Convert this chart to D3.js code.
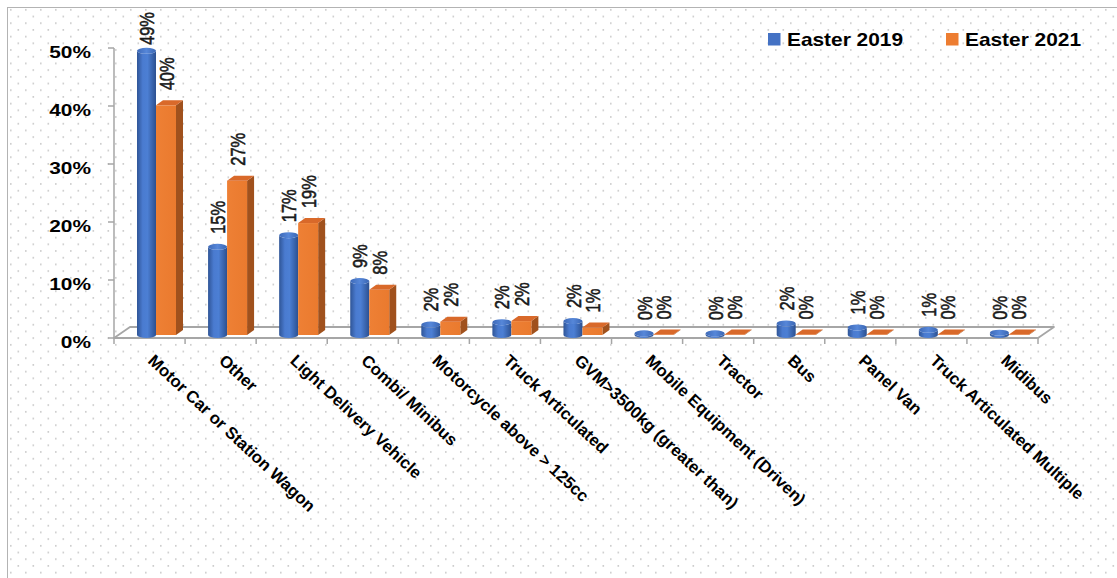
<!DOCTYPE html>
<html><head><meta charset="utf-8">
<script src="https://cdn.jsdelivr.net/npm/d3@7"></script>
<style>body{margin:0;background:#fff;overflow:hidden}</style>
</head><body><svg id="c" width="1117" height="578"></svg>
<script>
const categories = ["Motor Car or Station Wagon","Other","Light Delivery Vehicle","Combi/ Minibus","Motorcycle above > 125cc","Truck Articulated","GVM>3500kg (greater than)","Mobile Equipment (Driven)","Tractor","Bus","Panel Van","Truck Articulated Multiple","Midibus"];
const easter2019 = [49.0,15.2,17.2,9.3,1.8,2.2,2.4,0.3,0.3,2.0,1.3,0.9,0.4];
const easter2021 = [39.6,26.6,19.3,7.8,2.3,2.4,1.3,0.1,0.1,0.1,0.1,0.1,0.1];
const yTicks = [0,10,20,30,40,50];
const seriesNames = ["Easter 2019","Easter 2021"];

const FONT = "'Liberation Sans', Arial, sans-serif";
const svg = d3.select("#c");
const defs = svg.append("defs");

// dotted background pattern
const pat = defs.append("pattern").attr("id","dots").attr("patternUnits","userSpaceOnUse")
  .attr("width",15).attr("height",13.4).attr("x",7).attr("y",7);
pat.append("rect").attr("x",3).attr("y",2).attr("width",1.6).attr("height",1.6).attr("fill","#c8c8c8");
pat.append("rect").attr("x",10.5).attr("y",8.7).attr("width",1.6).attr("height",1.6).attr("fill","#c8c8c8");

// gradients
const gBlue = defs.append("linearGradient").attr("id","gBlue").attr("x1",0).attr("x2",1).attr("y1",0).attr("y2",0);
[[0,"#2f5597"],[0.3,"#4a7bd0"],[0.55,"#4c7fd4"],[1,"#2c5090"]].forEach(s=>gBlue.append("stop").attr("offset",s[0]).attr("stop-color",s[1]));
const gTop = defs.append("linearGradient").attr("id","gTop").attr("x1",0).attr("x2",1).attr("y1",0).attr("y2",0);
[[0,"#3d69b8"],[0.5,"#5687d9"],[1,"#3a66b3"]].forEach(s=>gTop.append("stop").attr("offset",s[0]).attr("stop-color",s[1]));
const gOr = defs.append("linearGradient").attr("id","gOr").attr("x1",0).attr("x2",1).attr("y1",0).attr("y2",0);
[[0,"#ee8035"],[1,"#ea7a2e"]].forEach(s=>gOr.append("stop").attr("offset",s[0]).attr("stop-color",s[1]));

svg.append("rect").attr("x",7).attr("y",7).attr("width",1110).attr("height",571).attr("fill","#fff");
svg.append("rect").attr("x",7).attr("y",7).attr("width",1110).attr("height",571).attr("fill","url(#dots)");
svg.append("line").attr("x1",7).attr("y1",7.5).attr("x2",1117).attr("y2",7.5).attr("stroke","#b3b3b3");
svg.append("line").attr("x1",7.5).attr("y1",7).attr("x2",7.5).attr("y2",578).attr("stroke","#b3b3b3");

// scales
const x = d3.scaleBand().domain(categories).range([114,1038]).padding(0);
const y = d3.scaleLinear().domain([0,50]).range([338,48]);
const DX = 16, DY = 11;       // floor depth
const baseY = 335;            // bars sit slightly back in depth
const barTop = v => y(v) - (338 - baseY);

// floor
const axisColor = "#a6a6a6";
svg.append("path")
  .attr("d",`M${x.range()[0]},${y(0)} L${x.range()[1]},${y(0)} L${x.range()[1]+DX},${y(0)-DY} L${x.range()[0]+DX},${y(0)-DY} Z`)
  .attr("fill","#fff").attr("stroke",axisColor).attr("stroke-width",1.8).attr("stroke-linejoin","round");

// y axis
svg.append("line").attr("x1",114).attr("x2",114).attr("y1",y(0)).attr("y2",y(50)).attr("stroke",axisColor).attr("stroke-width",1.5);
const yt = svg.append("g");
yTicks.forEach(t=>{
  yt.append("line").attr("x1",108).attr("x2",114).attr("y1",y(t)).attr("y2",y(t)).attr("stroke",axisColor).attr("stroke-width",1.5);
  yt.append("text").attr("transform",`translate(91,${y(t)+10}) scale(1.28,1)`)
    .attr("text-anchor","end").attr("font-family",FONT).attr("font-weight","bold").attr("font-size",16.3)
    .attr("fill","#000").text(t+"%");
});

// x ticks
d3.range(categories.length+1).forEach(i=>{
  const xx = 114 + i*x.bandwidth();
  svg.append("line").attr("x1",xx).attr("x2",xx).attr("y1",y(0)).attr("y2",y(0)+6).attr("stroke",axisColor).attr("stroke-width",1.5);
});

// bars
const BW = 19, OW = 20, SD = 7, SH = 5, RY = 3;
const bars = svg.append("g");
const labels = svg.append("g");
function addLabel(cx, bottom, v){
  const t = labels.append("text").attr("font-family",FONT).attr("font-size",16.5).attr("fill","#1a1a1a")
    .attr("stroke","#1a1a1a").attr("stroke-width",0.45)
    .attr("text-anchor","start").attr("dy","0.36em").text(Math.round(v)+"%");
  const len = t.node().getComputedTextLength();
  const yy = Math.max(bottom, 12 + len);
  t.attr("transform",`translate(${cx},${yy}) rotate(-90) scale(1,1.27)`);
}
categories.forEach((c,i)=>{
  const left = x(c);
  // blue cylinder
  const bx = left + 23, bt = barTop(easter2019[i]), bb = baseY, rx = BW/2;
  bars.append("path")
    .attr("d",`M${bx},${bt} L${bx},${bb} A${rx},${RY} 0 0 0 ${bx+BW},${bb} L${bx+BW},${bt} A${rx},${RY} 0 0 1 ${bx},${bt} Z`)
    .attr("fill","url(#gBlue)");
  bars.append("ellipse").attr("cx",bx+rx).attr("cy",bt).attr("rx",rx).attr("ry",RY).attr("fill","url(#gTop)");
  addLabel(bx+rx, bt-RY-10, easter2019[i]);
  // orange box
  const ox = bx + BW, ot = barTop(easter2021[i]);
  bars.append("path").attr("d",`M${ox+OW},${ot} L${ox+OW+SD},${ot-SH} L${ox+OW+SD},${bb-SH} L${ox+OW},${bb} Z`).attr("fill","#a0511d");
  bars.append("rect").attr("x",ox).attr("y",ot).attr("width",OW).attr("height",Math.max(0,bb-ot)).attr("fill","url(#gOr)");
  bars.append("path").attr("d",`M${ox},${ot} L${ox+SD},${ot-SH} L${ox+OW+SD},${ot-SH} L${ox+OW},${ot} Z`).attr("fill","#d9692a");
  addLabel(ox+OW/2, ot-SH-10, easter2021[i]);
});

// category labels
const cl = svg.append("g");
categories.forEach(c=>{
  cl.append("text").attr("transform",`translate(${x(c)+x.bandwidth()/2-2.5},362) rotate(43)`)
    .attr("font-family",FONT).attr("font-weight","bold").attr("font-size",16.7).attr("fill","#000").text(c);
});

// legend
const colors = ["#4472c4","#ed7d31"];
const lx = [768, 946];
seriesNames.forEach((s,i)=>{
  svg.append("rect").attr("x",lx[i]).attr("y",33).attr("width",12.5).attr("height",12.5).attr("fill",colors[i]);
  svg.append("text").attr("x",lx[i]+19).attr("y",46).attr("font-family",FONT).attr("font-weight","bold")
    .attr("font-size",18.5).attr("textLength",116).attr("lengthAdjust","spacingAndGlyphs").attr("fill","#000").text(s);
});
</script></body></html>
